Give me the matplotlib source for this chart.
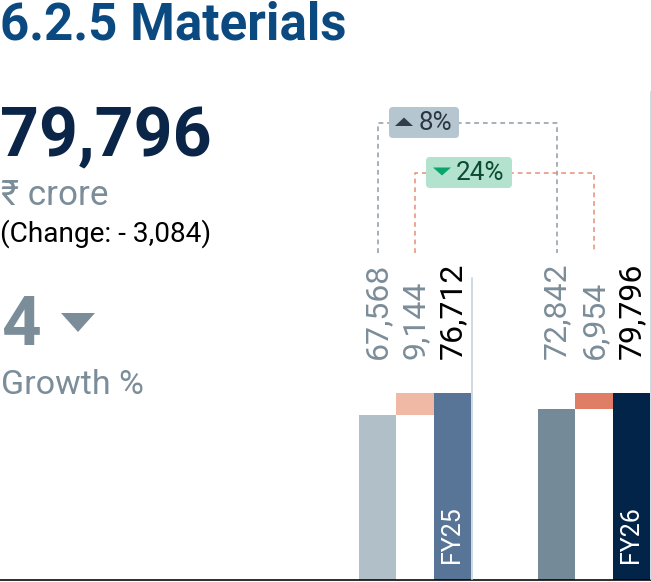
import matplotlib
matplotlib.use('Agg')
import matplotlib.pyplot as plt
from matplotlib.patches import FancyBboxPatch, Polygon

# Data
years = ['FY25', 'FY26']
opening = [67568, 72842]
added = [9144, 6954]
closing = [76712, 79796]
headline = '79,796'
change_text = '(Change: - 3,084)'
growth = '4'
badge_grey = '8%'
badge_green = '24%'

W, H = 651, 582
DPI = 100
FONT = ['Roboto', 'Noto Sans', 'DejaVu Sans']
plt.rcParams['font.family'] = FONT


def pt(px):
    return px * 72 / DPI


group_colors = [
    ['#b1bfc9', '#efb9a6', '#587597'],
    ['#748a98', '#e07e65', '#032449'],
]
label_colors = ['#7b8d99', '#7b8d99', '#000000']

fig = plt.figure(figsize=(W / DPI, H / DPI), dpi=DPI)

# one axes per year group, each scaled so its closing bar reaches the same height
group_left = [359, 538]
group_width = 112
base_y = 580
bar_top_px = 187
bar_axes = []
for i in range(len(years)):
    ax = fig.add_axes([group_left[i] / W, (H - base_y) / H, group_width / W, base_y / H])
    ax.set_xlim(-0.5, 2.5)
    ax.set_ylim(0, closing[i] * base_y / bar_top_px)
    ax.bar([0], [opening[i]], width=1.0, color=group_colors[i][0])
    ax.bar([1], [added[i]], bottom=[opening[i]], width=1.0, color=group_colors[i][1])
    ax.bar([2], [closing[i]], width=1.0, color=group_colors[i][2])
    ax.axis('off')
    bar_axes.append(ax)

# overlay in pixel coordinates for text and connectors
ov = fig.add_axes([0, 0, 1, 1])
ov.set_xlim(0, W)
ov.set_ylim(H, 0)
ov.axis('off')
ov.patch.set_alpha(0)


def px_x(ax, x):
    disp = ax.transData.transform((x, 0))
    return ov.transData.inverted().transform(disp)[0]


# baseline and vertical guides
ov.plot([0, W], [base_y, base_y], color='black', lw=pt(1.6), solid_capstyle='butt')
guide_top = [278, 92]
for i, ax in enumerate(bar_axes):
    gx = px_x(ax, 2.5) + 0.5
    ov.plot([gx, gx], [guide_top[i], base_y - 1], color='#c5d2da', lw=pt(1.6))

# rotated value labels
for i, ax in enumerate(bar_axes):
    vals = [opening[i], added[i], closing[i]]
    for j, v in enumerate(vals):
        ov.text(px_x(ax, j), 359, f'{v:,}', rotation=90, ha='center', va='bottom',
                fontsize=pt(32), color=label_colors[j])
    ov.text(px_x(ax, 2), 563, years[i], rotation=90, ha='center', va='bottom',
            fontsize=pt(25), color='white')

# dashed connectors between years
conn_bottom = 253
dash = (3.2, 2.6)
x0a = px_x(bar_axes[0], 0)
x1a = px_x(bar_axes[1], 0)
ov.plot([x0a, x0a, x1a, x1a], [conn_bottom, 122.5, 122.5, conn_bottom],
        color='#8a9ba6', lw=pt(1.5), dashes=dash)
x0b = px_x(bar_axes[0], 1)
x1b = px_x(bar_axes[1], 1)
ov.plot([x0b, x0b, x1b, x1b], [conn_bottom, 172.5, 172.5, conn_bottom],
        color='#e48d74', lw=pt(1.5), dashes=dash)

# badges
ov.add_patch(FancyBboxPatch((389, 107), 70, 31, boxstyle='round,pad=0,rounding_size=4',
                            fc='#b6c6d0', ec='none', zorder=3))
ov.add_patch(Polygon([[395, 126], [413, 126], [404, 117.5]], closed=True,
                     fc='#333f48', ec='none', zorder=4))
ov.text(419, 123, badge_grey, ha='left', va='center', fontsize=pt(26),
        color='#2a3740', zorder=4)

ov.add_patch(FancyBboxPatch((426, 157), 86, 31, boxstyle='round,pad=0,rounding_size=4',
                            fc='#b3e2cf', ec='none', zorder=3))
ov.add_patch(Polygon([[433, 167.5], [451, 167.5], [442, 175.5]], closed=True,
                     fc='#0aa56b', ec='none', zorder=4))
ov.text(456, 173, badge_green, ha='left', va='center', fontsize=pt(26),
        color='#0b4a33', zorder=4)

# left text block
ov.text(0, 39.5, '6.2.5 Materials', ha='left', va='baseline', fontsize=pt(51),
        fontweight='bold', color='#0b4a80')
ov.text(0, 156, headline, ha='left', va='baseline', fontsize=pt(68),
        fontweight='bold', color='#0a2548')
ov.text(1, 205, '₹ crore', ha='left', va='baseline', fontsize=pt(35), color='#7b8d99')
ov.text(0, 242, change_text, ha='left', va='baseline', fontsize=pt(28), color='black')
ov.text(1, 345, growth, ha='left', va='baseline', fontsize=pt(69),
        fontweight='bold', color='#7b8d99')
ov.add_patch(Polygon([[61, 313], [95, 313], [78, 332]], closed=True,
                     fc='#7b8d99', ec='none'))
ov.text(1, 394, 'Growth %', ha='left', va='baseline', fontsize=pt(34), color='#7b8d99')

fig.savefig('out.png', dpi=DPI)
